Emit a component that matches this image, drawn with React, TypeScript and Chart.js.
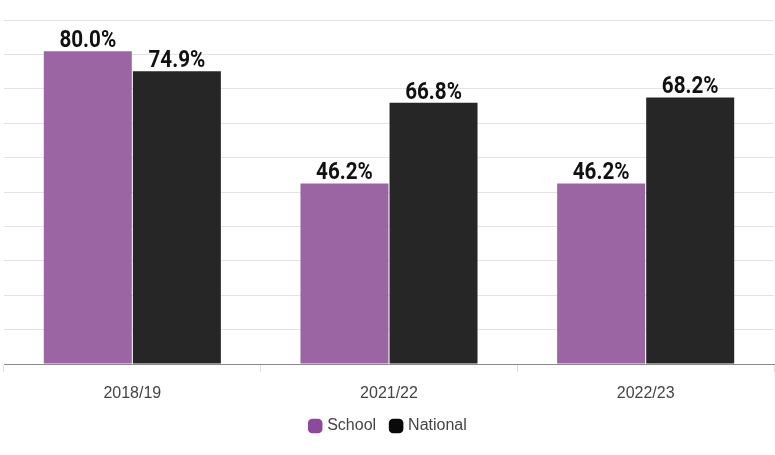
import React, { useEffect, useRef } from "react";
import { Chart, registerables } from "chart.js";

Chart.register(...registerables);

const categories = ["2018/19", "2021/22", "2022/23"];
const schoolValues = [80.0, 46.2, 46.2];
const nationalValues = [74.9, 66.8, 68.2];
const seriesNames = ["School", "National"];

const labelPlugin = {
  id: "barValueLabels",
  afterDatasetsDraw(chart: any) {
    const ctx = chart.ctx;
    chart.data.datasets.forEach((ds: any, i: number) => {
      const meta = chart.getDatasetMeta(i);
      meta.data.forEach((el: any, j: number) => {
        const v = ds.data[j];
        const text = v.toFixed(1) + "%";
        ctx.save();
        ctx.translate(el.x, el.y - 4);
        ctx.scale(0.86, 1);
        ctx.font = "bold 24px Roboto";
        ctx.fillStyle = "#111111";
        ctx.textAlign = "center";
        ctx.textBaseline = "alphabetic";
        ctx.fillText(text, 0, 0);
        ctx.restore();
      });
    });
  },
};

export default function App() {
  const ref = useRef<HTMLCanvasElement>(null);
  useEffect(() => {
    if (!ref.current) return;
    const chart = new Chart(ref.current, {
      type: "bar",
      data: {
        labels: categories,
        datasets: [
          {
            label: seriesNames[0],
            data: schoolValues,
            backgroundColor: "#9b65a3",
            categoryPercentage: 0.694,
            barPercentage: 0.988,
          },
          {
            label: seriesNames[1],
            data: nationalValues,
            backgroundColor: "#262626",
            categoryPercentage: 0.694,
            barPercentage: 0.988,
          },
        ],
      },
      options: {
        animation: false,
        responsive: true,
        maintainAspectRatio: false,
        layout: { padding: { top: 20, left: 4, right: 1, bottom: 11 } },
        scales: {
          x: {
            grid: {
              drawOnChartArea: false,
              drawTicks: true,
              tickLength: 8,
              color: "#dddddd",
            },
            border: { display: true, color: "#8a8a8a", width: 1 },
            ticks: {
              color: "#444444",
              font: { family: "'Liberation Sans', Arial", size: 16 },
              padding: 12,
            },
            afterFit: (scale: any) => {
              scale.height = 38;
            },
          },
          y: {
            min: 0,
            max: 88,
            ticks: { display: false, count: 11 },
            grid: { color: "#e3e3e3", drawTicks: false, lineWidth: 1 },
            border: { display: false },
          },
        },
        plugins: {
          legend: {
            position: "bottom",
            labels: {
              color: "#444444",
              font: { family: "'Liberation Sans', Arial", size: 16 },
              boxWidth: 8,
              boxHeight: 12,
              padding: 16,
              usePointStyle: true,
              generateLabels: () => [
                {
                  text: seriesNames[0],
                  fillStyle: "#8b4a9b",
                  strokeStyle: "#8b4a9b",
                  lineWidth: 0,
                  pointStyle: "rectRounded",
                  datasetIndex: 0,
                  hidden: false,
                  fontColor: "#444444",
                },
                {
                  text: seriesNames[1],
                  fillStyle: "#0a0a0a",
                  strokeStyle: "#0a0a0a",
                  lineWidth: 0,
                  pointStyle: "rectRounded",
                  datasetIndex: 1,
                  hidden: false,
                  fontColor: "#444444",
                },
              ],
            },
          },
          tooltip: { enabled: false },
        },
      },
      plugins: [labelPlugin],
    });
    return () => chart.destroy();
  }, []);
  return (
    <div style={{ position: "fixed", left: 0, top: 0, width: 775, height: 455 }}>
      <canvas ref={ref} />
    </div>
  );
}
